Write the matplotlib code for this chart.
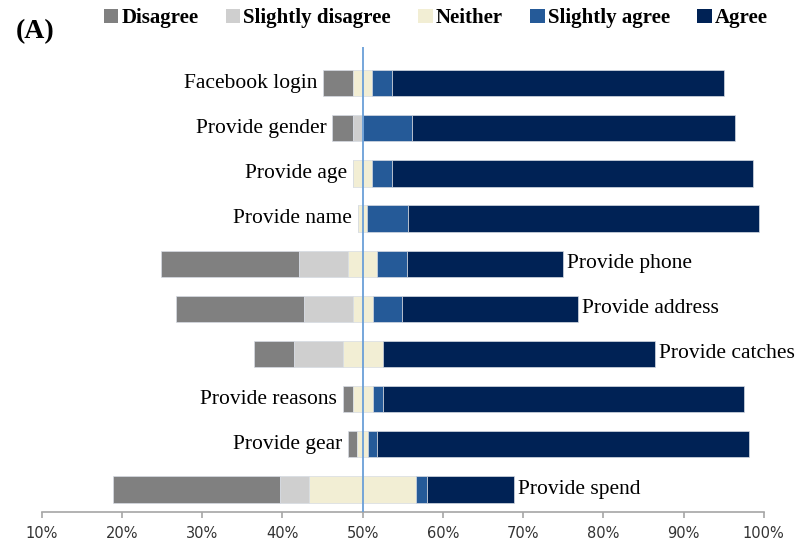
import numpy as np
import matplotlib.pyplot as plt
from matplotlib.patches import Patch
from matplotlib.ticker import FuncFormatter

# Survey items and response shares (in % of the axis scale)
categories = ["Facebook login", "Provide gender", "Provide age", "Provide name",
              "Provide phone", "Provide address", "Provide catches",
              "Provide reasons", "Provide gear", "Provide spend"]
disagree = [3.7, 2.6, 0.0, 0.0, 17.2, 15.9, 5.0, 1.2, 1.2, 20.8]
slightly_disagree = [0.0, 1.2, 0.0, 0.0, 6.1, 6.1, 6.0, 0.0, 0.0, 3.6]
neither = [2.4, 0.0, 2.4, 1.2, 3.6, 2.5, 5.0, 2.5, 1.3, 13.4]
slightly_agree = [2.4, 6.1, 2.4, 5.1, 3.7, 3.6, 0.0, 1.3, 1.2, 1.3]
agree = [41.5, 40.3, 45.1, 43.7, 19.5, 22.0, 34.0, 45.0, 46.3, 10.9]

responses = ["Disagree", "Slightly disagree", "Neither", "Slightly agree", "Agree"]
colors = ["#808080", "#cfcfcf", "#f2eed4", "#255a98", "#002255"]

data = np.array([disagree, slightly_disagree, neither, slightly_agree, agree])
# bars are centred on 50% through the middle of "Neither"
left = 50 - data[0] - data[1] - data[2] / 2

fig = plt.figure(figsize=(7.98, 5.48), dpi=100)
ax = fig.add_axes([0.0523, 0.0657, 0.9048, 0.8485])

y = np.arange(len(categories))
starts = left.copy()
for k in range(5):
    ax.barh(y, data[k], left=starts, height=0.58, color=colors[k],
            edgecolor="#d6dbe3", linewidth=0.5, zorder=2)
    starts = starts + data[k]
ends = starts

ax.axvline(50, color="#6a9fd8", linewidth=1.3, zorder=3)

# item labels: beside the bar's start, or after its end when the bar runs far left
for i, cat in enumerate(categories):
    if left[i] < 40:
        ax.text(ends[i] + 0.5, y[i], cat, ha="left", va="center",
                family="Liberation Serif", fontsize=15.5, color="black")
    else:
        ax.text(left[i] - 0.7, y[i], cat, ha="right", va="center",
                family="Liberation Serif", fontsize=15.5, color="black")

ax.set_xlim(10, 100)
ax.set_ylim(9.5, -0.8)
ax.set_xticks(np.arange(10, 101, 10))
ax.xaxis.set_major_formatter(FuncFormatter(lambda v, p: f"{v:.0f}%"))
ax.set_yticks([])
for s in ["top", "right", "left"]:
    ax.spines[s].set_visible(False)
ax.spines["bottom"].set_color("#a6a6a6")
ax.spines["bottom"].set_linewidth(1.2)
ax.tick_params(axis="x", direction="out", length=4, width=1.2, color="#a6a6a6",
               labelsize=10.5, labelcolor="#333333", pad=6)

handles = [Patch(facecolor=c, edgecolor="none", label=r) for c, r in zip(colors, responses)]
fig.legend(handles=handles, loc="center", bbox_to_anchor=(0.546, 0.967), ncol=5,
           frameon=False, handlelength=0.7, handleheight=0.7, handletextpad=0.15,
           columnspacing=1.3, prop={"family": "Liberation Serif", "weight": "bold", "size": 15})

fig.text(0.044, 0.942, "(A)", family="Liberation Serif", weight="bold", fontsize=20,
         ha="center", va="center")

fig.savefig("out.png", dpi=100)
